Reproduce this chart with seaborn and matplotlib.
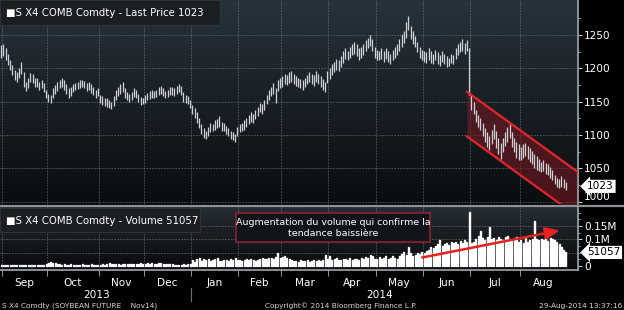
import numpy as np
import matplotlib
matplotlib.use("Agg")
import matplotlib.pyplot as plt
import matplotlib.transforms as mtransforms
from matplotlib.patches import Rectangle
from matplotlib.lines import Line2D
import seaborn as sns

# ---------------- data (daily bars, grouped by month) ----------------
aug13_hi = [1235]
aug13_lo = [1215]
aug13_vol = [5]

sep_hi = [1236, 1230, 1222, 1212, 1205, 1198, 1195, 1200, 1210, 1195, 1180, 1185, 1193, 1192, 1186, 1185, 1180, 1183, 1178, 1168]
sep_lo = [1218, 1212, 1205, 1198, 1190, 1182, 1180, 1185, 1192, 1172, 1166, 1170, 1180, 1178, 1172, 1172, 1168, 1170, 1165, 1155]
sep_vol = [4, 3, 5, 4, 5, 4, 3, 4, 5, 4, 5, 4, 3, 4, 5, 4, 5, 4, 5, 6]

oct_hi = [1162, 1160, 1170, 1175, 1180, 1183, 1186, 1182, 1176, 1170, 1172, 1176, 1178, 1180, 1182, 1183, 1181, 1178, 1180, 1176, 1172, 1168, 1170]
oct_lo = [1150, 1148, 1155, 1162, 1166, 1170, 1172, 1168, 1162, 1156, 1158, 1165, 1168, 1169, 1170, 1172, 1170, 1166, 1168, 1163, 1160, 1156, 1158]
oct_vol = [12, 14, 10, 11, 8, 6, 5, 6, 4, 5, 6, 5, 4, 5, 4, 6, 5, 4, 5, 6, 5, 4, 5]

nov_hi = [1160, 1158, 1155, 1156, 1152, 1150, 1158, 1168, 1172, 1176, 1180, 1170, 1165, 1162, 1165, 1170, 1168, 1162, 1157, 1155]
nov_lo = [1148, 1145, 1143, 1142, 1140, 1139, 1143, 1152, 1158, 1162, 1165, 1155, 1152, 1150, 1153, 1157, 1155, 1150, 1145, 1146]
nov_vol = [5, 6, 5, 8, 10, 9, 7, 8, 6, 5, 7, 8, 6, 9, 8, 7, 9, 8, 10, 6]

dec_hi = [1160, 1163, 1166, 1168, 1166, 1168, 1172, 1174, 1170, 1166, 1168, 1172, 1172, 1170, 1173, 1176, 1174, 1164, 1160, 1158, 1152]
dec_lo = [1148, 1152, 1154, 1156, 1155, 1157, 1160, 1162, 1158, 1155, 1157, 1160, 1160, 1159, 1162, 1164, 1160, 1150, 1148, 1146, 1140]
dec_vol = [9, 11, 8, 10, 9, 7, 12, 10, 8, 9, 7, 8, 6, 5, 4, 5, 4, 6, 5, 7, 9]

jan_hi = [1145, 1140, 1135, 1125, 1116, 1110, 1106, 1112, 1118, 1116, 1122, 1124, 1128, 1120, 1118, 1114, 1110, 1106, 1104, 1102, 1112]
jan_lo = [1132, 1125, 1118, 1110, 1102, 1096, 1094, 1098, 1104, 1106, 1108, 1110, 1112, 1106, 1106, 1102, 1098, 1094, 1092, 1090, 1098]
jan_vol = [22, 14, 26, 30, 20, 28, 24, 26, 18, 22, 28, 30, 20, 18, 24, 22, 20, 26, 24, 30, 22]

feb_hi = [1116, 1118, 1122, 1126, 1130, 1134, 1132, 1138, 1142, 1148, 1146, 1152, 1160, 1168, 1172, 1178, 1170, 1182, 1186]
feb_lo = [1104, 1106, 1108, 1112, 1116, 1120, 1118, 1124, 1128, 1134, 1132, 1138, 1146, 1152, 1158, 1162, 1148, 1166, 1170]
feb_vol = [24, 18, 22, 26, 24, 28, 22, 20, 24, 26, 30, 28, 26, 32, 30, 28, 34, 49, 30]

mar_hi = [1188, 1192, 1190, 1194, 1196, 1192, 1188, 1186, 1184, 1182, 1186, 1190, 1194, 1192, 1190, 1196, 1192, 1188, 1184, 1180, 1196]
mar_lo = [1172, 1176, 1175, 1178, 1180, 1176, 1174, 1172, 1170, 1168, 1172, 1176, 1180, 1177, 1174, 1180, 1176, 1172, 1168, 1164, 1178]
mar_vol = [34, 38, 30, 26, 22, 18, 20, 16, 22, 18, 20, 24, 16, 20, 22, 18, 24, 20, 22, 42, 28]

apr_hi = [1200, 1206, 1210, 1214, 1212, 1218, 1226, 1230, 1226, 1232, 1236, 1240, 1236, 1230, 1232, 1236, 1242, 1246, 1250, 1244, 1232]
apr_lo = [1184, 1190, 1194, 1198, 1196, 1202, 1208, 1214, 1212, 1216, 1220, 1222, 1218, 1212, 1215, 1220, 1226, 1230, 1234, 1226, 1216]
apr_vol = [36, 22, 26, 30, 24, 22, 28, 26, 24, 30, 22, 26, 28, 24, 30, 26, 34, 30, 40, 38, 26]

may_hi = [1228, 1226, 1230, 1226, 1230, 1226, 1222, 1228, 1232, 1236, 1244, 1252, 1256, 1270, 1278, 1264, 1256, 1248, 1240, 1232, 1228]
may_lo = [1212, 1212, 1214, 1210, 1214, 1210, 1206, 1212, 1216, 1220, 1226, 1232, 1238, 1246, 1258, 1244, 1236, 1232, 1224, 1216, 1212]
may_vol = [28, 34, 26, 30, 36, 28, 32, 38, 30, 26, 36, 44, 52, 40, 72, 48, 36, 40, 50, 46, 54]

jun_hi = [1226, 1224, 1230, 1226, 1222, 1228, 1224, 1220, 1226, 1222, 1218, 1216, 1222, 1220, 1230, 1236, 1240, 1244, 1238, 1242, 1230]
jun_lo = [1210, 1208, 1212, 1208, 1206, 1212, 1206, 1204, 1210, 1206, 1202, 1204, 1208, 1206, 1214, 1220, 1224, 1226, 1222, 1226, 1160]
jun_vol = [48, 56, 62, 70, 66, 74, 82, 98, 76, 84, 88, 80, 92, 86, 90, 84, 94, 88, 96, 90, 204]

jul_hi = [1162, 1150, 1138, 1130, 1126, 1118, 1110, 1104, 1098, 1108, 1116, 1106, 1096, 1088, 1096, 1104, 1112, 1116, 1104, 1096, 1090, 1086]
jul_lo = [1138, 1132, 1120, 1112, 1108, 1098, 1090, 1082, 1078, 1086, 1094, 1080, 1072, 1064, 1074, 1084, 1090, 1096, 1082, 1074, 1066, 1062]
jul_vol = [86, 90, 100, 112, 132, 104, 96, 108, 145, 100, 106, 98, 110, 102, 96, 108, 112, 100, 94, 104, 108, 92]

aug_hi = [1082, 1086, 1088, 1084, 1080, 1076, 1072, 1068, 1064, 1060, 1062, 1058, 1056, 1052, 1048, 1040, 1036, 1034, 1038, 1034, 1030]
aug_lo = [1062, 1066, 1068, 1064, 1060, 1056, 1050, 1048, 1046, 1044, 1046, 1042, 1040, 1036, 1032, 1026, 1022, 1020, 1022, 1020, 1018]
aug_vol = [96, 88, 104, 92, 98, 100, 170, 100, 98, 102, 96, 110, 94, 104, 100, 96, 90, 84, 72, 60, 51]

month_labels = ["", "Sep", "Oct", "Nov", "Dec", "Jan", "Feb", "Mar", "Apr", "May", "Jun", "Jul", "Aug"]
month_years = [2013, 2013, 2013, 2013, 2013, 2014, 2014, 2014, 2014, 2014, 2014, 2014, 2014]

last_price = 1023
last_volume = 51057
price_ticks = [1000, 1050, 1100, 1150, 1200, 1250]
vol_ticks = [0, 100000, 150000]
vol_tick_labels = ["0", "0.1M", "0.15M"]

# down-trend channel drawn on the chart (bar index, price)
channel_x = [207.0, 256.5]
channel_upper = [1165, 1044]
channel_lower = [1098, 977]
# rising-volume arrow (bar index, volume)
arrow_x = [186.0, 249.5]
arrow_vol = [30000, 136000]

highs_by_month = [aug13_hi, sep_hi, oct_hi, nov_hi, dec_hi, jan_hi, feb_hi, mar_hi, apr_hi, may_hi, jun_hi, jul_hi, aug_hi]
lows_by_month = [aug13_lo, sep_lo, oct_lo, nov_lo, dec_lo, jan_lo, feb_lo, mar_lo, apr_lo, may_lo, jun_lo, jul_lo, aug_lo]
vols_by_month = [aug13_vol, sep_vol, oct_vol, nov_vol, dec_vol, jan_vol, feb_vol, mar_vol, apr_vol, may_vol, jun_vol, jul_vol, aug_vol]

high = np.concatenate(highs_by_month).astype(float)
low = np.concatenate(lows_by_month).astype(float)
vol = np.concatenate(vols_by_month).astype(float) * 1000.0
n = len(high)
idx = np.arange(n)
lengths = np.array([len(m) for m in highs_by_month])
starts = np.concatenate([[0], np.cumsum(lengths)[:-1]])
ends = starts + lengths - 1
bounds = starts[1:] - 0.5

# ---------------- figure ----------------
sns.set_theme(style="dark")
plt.rcParams["font.family"] = ["DejaVu Sans"]

W, H = 624, 310
fig = plt.figure(figsize=(W / 100, H / 100), dpi=100)
fig.patch.set_facecolor("black")

def fx(px):
    return px / W

def fy(py):
    return 1 - py / H

XMIN, XMAX = -0.45, 256.4
ax = fig.add_axes([0, fy(204), fx(578), 204 / H])
axv = fig.add_axes([0, fy(270), fx(578), 63 / H])

PMIN, PMAX = 996.5, 1302.5
VMIN, VMAX = -15000, 222000

def gradient(a, ymin, ymax, top, bottom):
    from matplotlib.colors import LinearSegmentedColormap
    cmap = LinearSegmentedColormap.from_list("g", [bottom, top])
    a.imshow(np.linspace(0, 1, 256).reshape(-1, 1), extent=[XMIN, XMAX, ymin, ymax],
             origin="lower", aspect="auto", cmap=cmap, zorder=0, interpolation="bicubic")

gradient(ax, PMIN, PMAX, "#27323b", "#0a0d10")
gradient(axv, VMIN, VMAX, "#252d34", "#08090b")

grid_kw = dict(color="#6b747c", linewidth=0.6, linestyle=(0, (2, 1.5)), alpha=0.75)

# price bars
ax.vlines(idx, low, high, colors="#cfd3d7", linewidth=0.9, zorder=3)

# channel
ax.fill_between(channel_x, channel_lower, channel_upper, color="#7d1a22", alpha=0.55, zorder=2, linewidth=0)
sns.lineplot(x=channel_x, y=channel_upper, ax=ax, color="#e3242b", linewidth=1.6, zorder=4)
sns.lineplot(x=channel_x, y=channel_lower, ax=ax, color="#e3242b", linewidth=1.6, zorder=4)

ax.set_xlim(XMIN, XMAX)
ax.set_ylim(PMIN, PMAX)

# volume bars
sns.barplot(x=idx, y=vol, ax=axv, color="#d6d6d6", width=0.45, errorbar=None, saturation=1, zorder=3)
axv.annotate("", xy=(arrow_x[1], arrow_vol[1]), xytext=(arrow_x[0], arrow_vol[0]),
             arrowprops=dict(arrowstyle="-|>,head_length=0.7,head_width=0.3", color="#e8201e", lw=1.8),
             zorder=5)
axv.set_xlim(XMIN, XMAX)
axv.set_ylim(VMIN, VMAX)
axv.set_xlabel("")
axv.set_ylabel("")

# ---- axes styling ----
for a in (ax, axv):
    a.set_facecolor("black")
    for s in a.spines.values():
        s.set_visible(False)
    a.yaxis.tick_right()
    a.set_xticks(bounds)
    a.tick_params(axis="x", length=0, labelbottom=False)
    for b in bounds:
        a.axvline(b, zorder=1, **grid_kw)

ax.spines["right"].set_visible(True)
ax.spines["right"].set_color("#9aa1a8")
axv.spines["right"].set_visible(True)
axv.spines["right"].set_color("#9aa1a8")
axv.spines["bottom"].set_visible(True)
axv.spines["bottom"].set_color("#9aa1a8")

ax.set_yticks(price_ticks, labels=[str(t) for t in price_ticks])
ax.set_yticks(np.arange(1000, 1300, 25), minor=True)
for t in price_ticks:
    ax.axhline(t, zorder=1, **grid_kw)
ax.tick_params(axis="y", which="major", length=3, width=0.8, color="#c8c8c8", labelcolor="white",
               labelsize=7.6, pad=1.5, right=True, left=False)
ax.tick_params(axis="y", which="minor", length=1.5, width=0.6, color="#c8c8c8", right=True, left=False)
for lbl in ax.get_yticklabels():
    if lbl.get_text() == "1000":
        lbl.set_va("bottom")

axv.set_yticks(vol_ticks, labels=vol_tick_labels)
axv.set_yticks(np.arange(0, 225000, 25000), minor=True)
for t in [50000, 100000, 150000]:
    axv.axhline(t, zorder=1, **grid_kw)
axv.tick_params(axis="y", which="major", length=3, width=0.8, color="#c8c8c8", labelcolor="white",
                labelsize=7.6, pad=1.5, right=True, left=False)
axv.tick_params(axis="y", which="minor", length=1.5, width=0.6, color="#c8c8c8", right=True, left=False)
axv.tick_params(axis="x", length=4, width=0.8, color="#8a9096", direction="out", bottom=True)

# right-hand value flags
tp = mtransforms.blended_transform_factory(ax.transAxes, ax.transData)
ax.text(1.016, last_price, str(last_price), transform=tp, ha="left", va="center", fontsize=7.6,
        color="black", clip_on=False, zorder=10,
        bbox=dict(boxstyle="larrow,pad=0.15", fc="white", ec="none"))
tv = mtransforms.blended_transform_factory(axv.transAxes, axv.transData)
axv.text(1.016, last_volume, str(last_volume), transform=tv, ha="left", va="center", fontsize=7.6,
         color="black", clip_on=False, zorder=10,
         bbox=dict(boxstyle="larrow,pad=0.15", fc="white", ec="none"))

# separator between panels
fig.add_artist(Line2D([0, 1], [fy(205.5), fy(205.5)], color="#8d9399", linewidth=1.6))

# legend boxes
fig.add_artist(Rectangle((0, fy(25)), fx(220), 25 / H, transform=fig.transFigure,
                         fc="#1b1f23", ec="#2d3338", lw=0.8, zorder=5))
fig.text(fx(6), fy(13.5), "\u25a0S X4 COMB Comdty - Last Price 1023", color="white",
         fontsize=7.3, va="center", ha="left", zorder=6)
fig.add_artist(Rectangle((0, fy(232)), fx(200), 24 / H, transform=fig.transFigure,
                         fc="#1b1f23", ec="#2d3338", lw=0.8, zorder=5))
fig.text(fx(6), fy(220.5), "\u25a0S X4 COMB Comdty - Volume 51057", color="white",
         fontsize=7.3, va="center", ha="left", zorder=6)

# annotation box
fig.add_artist(Rectangle((fx(236), fy(242)), fx(430) - fx(236), (242 - 213) / H,
                         transform=fig.transFigure, fc="#111519", ec="#8c2233", lw=1.2, zorder=5))
fig.text(fx(333), fy(228), "Augmentation du volume qui confirme la\ntendance baissi\u00e8re",
         color="white", fontsize=6.8, ha="center", va="center", linespacing=1.2, zorder=6)

# month and year labels
tb = mtransforms.blended_transform_factory(axv.transData, fig.transFigure)
for lab, s, e in zip(month_labels, starts, ends):
    if lab:
        fig.text((s + e) / 2, fy(282.5), lab, transform=tb, color="white", fontsize=7.6,
                 ha="center", va="center")
years = sorted(set(month_years))
for y in years:
    sel = [i for i, my in enumerate(month_years) if my == y and month_labels[i]]
    c = (starts[sel[0]] + ends[sel[-1]]) / 2
    fig.text(c, fy(295.5), str(y), transform=tb, color="white", fontsize=7.6, ha="center", va="center")
year_break = starts[month_years.index(2014)] - 0.5
fig.add_artist(Line2D([year_break, year_break], [fy(288), fy(301)], transform=tb,
                      color="#6b7278", linewidth=0.8))

# footer
fig.text(fx(2), fy(306), "S X4 Comdty (SOYBEAN FUTURE    Nov14)", color="#d8d8d8",
         fontsize=5.3, ha="left", va="center")
fig.text(fx(341), fy(306), "Copyright\u00a9 2014 Bloomberg Finance L.P.", color="#d8d8d8",
         fontsize=5.3, ha="center", va="center")
fig.text(fx(622), fy(306), "29-Aug-2014 13:37:16", color="#d8d8d8",
         fontsize=5.3, ha="right", va="center")

fig.savefig("out.png", dpi=100, facecolor="black")
